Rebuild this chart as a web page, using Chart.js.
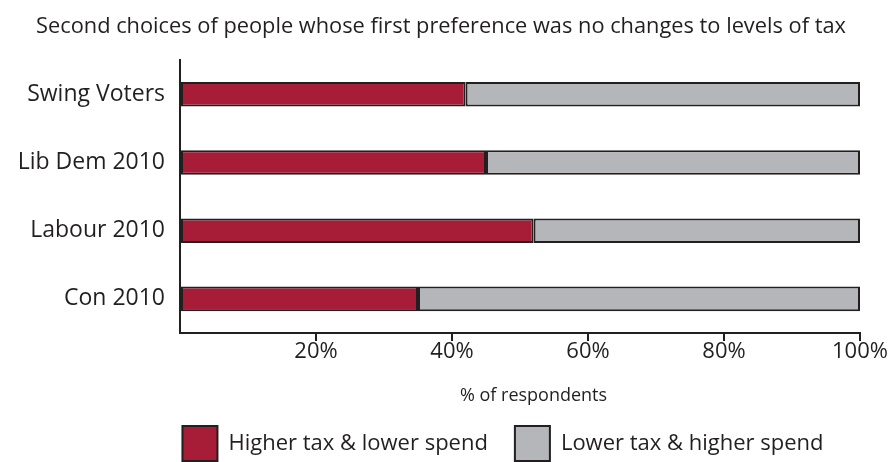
<!DOCTYPE html>
<html>
<head>
<meta charset="utf-8">
<script src="https://cdn.jsdelivr.net/npm/chart.js@4"></script>
<style>
  html, body { margin: 0; padding: 0; background: #fff; }
  #wrap { width: 894px; height: 462px; }
</style>
</head>
<body>
<div id="wrap"><canvas id="chart"></canvas></div>
<script>
const categories = ['Swing Voters', 'Lib Dem 2010', 'Labour 2010', 'Con 2010'];
const higherTax = [42, 45, 52, 35];
const lowerTax = [58, 55, 48, 65];
const seriesNames = ['Higher tax & lower spend', 'Lower tax & higher spend'];

const ink = '#231f20';
const fontFamily = '"Open Sans", "DejaVu Sans", sans-serif';

// title and legend in the original sit right of centre
const nudge = {
  id: 'nudge',
  afterLayout(chart) {
    chart.titleBlock.left += 11;
    chart.titleBlock.right += 11;
    chart.legend.left += 73;
    chart.legend.right += 73;
  },
};

new Chart(document.getElementById('chart'), {
  type: 'bar',
  data: {
    labels: categories,
    datasets: [
      { label: seriesNames[0], data: higherTax, backgroundColor: '#a71c36', borderColor: ink, borderWidth: 2, borderSkipped: false },
      { label: seriesNames[1], data: lowerTax, backgroundColor: '#b5b6b9', borderColor: ink, borderWidth: 2, borderSkipped: false },
    ],
  },
  plugins: [nudge],
  options: {
    indexAxis: 'y',
    responsive: true,
    maintainAspectRatio: false,
    animation: false,
    layout: { padding: { left: 0, right: 34, top: 0, bottom: 0 } },
    datasets: { bar: { categoryPercentage: 1, barPercentage: 0.36 } },
    scales: {
      x: {
        stacked: true,
        min: 0,
        max: 100,
        ticks: {
          stepSize: 20,
          color: ink,
          font: { family: fontFamily, size: 22 },
          padding: -2,
          callback: (v) => (v === 0 ? '' : `${v}%`),
        },
        grid: {
          drawOnChartArea: false,
          drawTicks: true,
          tickLength: 8,
          lineWidth: 2,
          color: (ctx) => (ctx.tick && ctx.tick.value === 0 ? 'rgba(0,0,0,0)' : ink),
        },
        border: { display: true, color: ink, width: 2 },
        title: {
          display: true,
          text: '\u2003\u2002% of respondents',
          color: ink,
          font: { family: fontFamily, size: 18 },
          padding: { top: 22, bottom: -8 },
        },
      },
      y: {
        stacked: true,
        afterFit: (scale) => { scale.width = 180; },
        ticks: { color: ink, font: { family: fontFamily, size: 23 }, padding: 15 },
        grid: { display: false, drawTicks: false },
        border: { display: true, color: ink, width: 2 },
      },
    },
    plugins: {
      title: {
        display: true,
        text: 'Second choices of people whose first preference was no changes to levels of tax',
        color: ink,
        font: { family: fontFamily, size: 21.8, weight: 'normal' },
        padding: { top: 14, bottom: 20 },
      },
      legend: {
        position: 'bottom',
        maxHeight: 63,
        labels: {
          color: ink,
          font: { family: fontFamily, size: 22 },
          boxWidth: 35,
          boxHeight: 35,
          padding: 27,
        },
      },
      tooltip: { enabled: false },
    },
  },
});
</script>
</body>
</html>
